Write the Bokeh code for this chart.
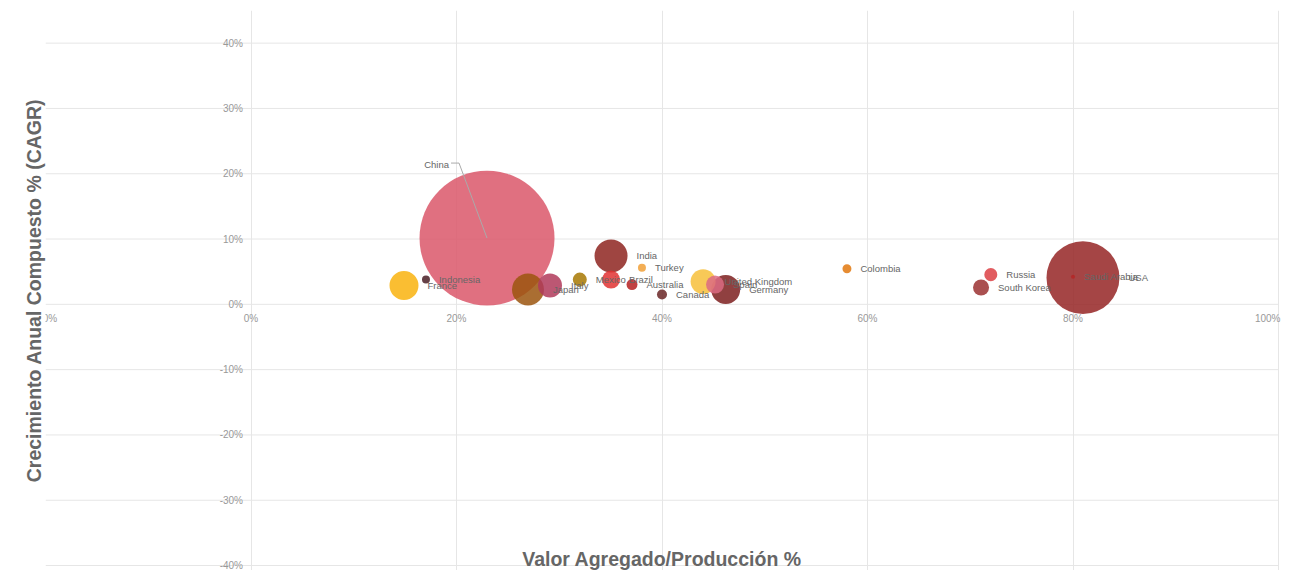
from bokeh.plotting import figure
from bokeh.models import ColumnDataSource, FixedTicker, Range1d, Label
from bokeh.core.properties import value
from bokeh.embed import file_html
from bokeh.resources import INLINE
import numpy as np

# ---------------- data ----------------
countries = ["China", "USA", "India", "Japan", "France", "Germany", "United Kingdom",
             "Italy", "Brazil", "Spain", "South Korea", "Mexico", "Russia", "Australia",
             "Canada", "Colombia", "Turkey", "Indonesia", "Saudi Arabia"]
valor_agregado = [22.97, 80.97, 35.04, 26.96, 14.89, 46.2, 44.0,
                  29.1, 35.04, 45.16, 71.05, 32.0, 72.0, 37.08,
                  40.0, 58.0, 38.05, 17.03, 80.0]
cagr = [10.15, 4.09, 7.42, 2.27, 2.88, 2.27, 3.48,
        2.88, 3.79, 3.03, 2.58, 3.79, 4.55, 3.03,
        1.52, 5.45, 5.6, 3.79, 4.24]
tamano = [100, 29.2, 5.98, 5.62, 4.61, 4.61, 3.43,
          3.16, 1.78, 1.78, 1.40, 1.08, 0.93, 0.66,
          0.55, 0.44, 0.35, 0.35, 0.09]
colores = ["#db576a", "#952424", "#8e2520", "#9b550e", "#f9b30e", "#7c1e1e", "#f7bf3a",
           "#b03a5a", "#e23131", "#dc6b83", "#9b3131", "#a77802", "#dc3f44", "#b52020",
           "#6a2626", "#e2780e", "#f1a037", "#4a1f26", "#b52626"]

x_ticks = [-20, 0, 20, 40, 60, 80, 100]
y_ticks = [-40, -30, -20, -10, 0, 10, 20, 30, 40]
x_tick_labels = ["-20%", "0%", "20%", "40%", "60%", "80%", "100%"]
y_tick_labels = ["-40%", "-30%", "-20%", "-10%", "0%", "10%", "20%", "30%", "40%"]

x_title = "Valor Agregado/Producción %"
y_title = "Crecimiento Anual Compuesto % (CAGR)"

# ---------------- layout constants ----------------
FONT = "Liberation Sans"
W, H = 1281, 570
LEFT, TOP = 45, 10
X0, X1 = -20, 100
PX_X = (1278 - 45) / 120.0          # px per x unit
Y_TOP, Y_BOT = 45.0, -40.76
PX_Y = (H - TOP) / (Y_TOP - Y_BOT)  # px per y unit
MAX_D = 135.0                       # px diameter of the largest bubble

diam = MAX_D * np.sqrt(np.array(tamano) / max(tamano))

p = figure(width=W, height=H,
           x_range=Range1d(X0, X1 + (W - 1278) / PX_X), y_range=Range1d(Y_BOT, Y_TOP),
           output_backend="svg", toolbar_location=None,
           min_border_left=LEFT, min_border_right=0, min_border_top=TOP, min_border_bottom=0)
p.outline_line_color = None
p.background_fill_color = "white"
p.border_fill_color = "white"

p.xaxis.visible = False
yax = p.yaxis[0]
yax.ticker = FixedTicker(ticks=[])
yax.axis_line_color = None
yax.major_tick_line_color = None
yax.minor_tick_line_color = None
yax.major_tick_out = 0
yax.minor_tick_out = 0
yax.major_label_standoff = 0
yax.axis_label = y_title
yax.axis_label_text_font = FONT
yax.axis_label_text_font_size = "19.5px"
yax.axis_label_text_font_style = "bold"
yax.axis_label_text_color = "#666666"
yax.axis_label_standoff = 1

p.xgrid.ticker = FixedTicker(ticks=x_ticks)
p.xgrid.grid_line_color = "#e6e6e6"
p.ygrid.visible = False

# horizontal grid lines spanning the x axis extent
p.segment(x0=[x_ticks[0]] * len(y_ticks), x1=[x_ticks[-1]] * len(y_ticks),
          y0=y_ticks, y1=y_ticks, line_color="#e6e6e6", line_width=1)

# tick labels
p.text(x=[0] * len(y_ticks), y=y_ticks, text=y_tick_labels, x_offset=-8,
       text_align="right", text_baseline="middle", text_font=value(FONT),
       text_font_size="10px", text_color="#999999")
p.text(x=x_ticks[:-1], y=[0] * (len(x_ticks) - 1), text=x_tick_labels[:-1], y_offset=14,
       text_align="center", text_baseline="middle", text_font=value(FONT),
       text_font_size="10px", text_color="#999999")
p.text(x=x_ticks[-1:], y=[0], text=x_tick_labels[-1:], y_offset=14, x_offset=2,
       text_align="right", text_baseline="middle", text_font=value(FONT),
       text_font_size="10px", text_color="#999999")

# bubbles
src = ColumnDataSource(dict(x=valor_agregado, y=cagr, name=countries,
                            color=colores, d=diam))
p.scatter("x", "y", size="d", source=src, fill_color="color", fill_alpha=0.85,
          line_color=None)

# China connector + label
cx, cy = valor_agregado[0], cagr[0]
p.line(x=[cx, cx - 28 / PX_X, cx - 36 / PX_X], y=[cy, cy + 75 / PX_Y, cy + 75 / PX_Y],
       line_color="#aaaaaa", line_width=1)
p.text(x=[cx], y=[cy], text=[countries[0]], x_offset=-38, y_offset=-74,
       text_align="right", text_baseline="middle", text_font=value(FONT),
       text_font_size="9.5px", text_color="#666666")

# other labels, right of each bubble
lab = ColumnDataSource(dict(
    x=valor_agregado[1:], y=cagr[1:], name=countries[1:], off=list(diam[1:] / 2 + 9)))
p.text("x", "y", text="name", source=lab, x_offset="off",
       text_align="left", text_baseline="middle", text_font=value(FONT),
       text_font_size="9.5px", text_color="#666666")

p.add_layout(Label(x=40, y=Y_BOT + 1 / PX_Y, text=x_title, text_align="center",
                   text_baseline="bottom", text_font=FONT, text_font_size="19.5px",
                   text_font_style="bold", text_color="#666666"))

open("out.html", "w").write(file_html(p, INLINE))
